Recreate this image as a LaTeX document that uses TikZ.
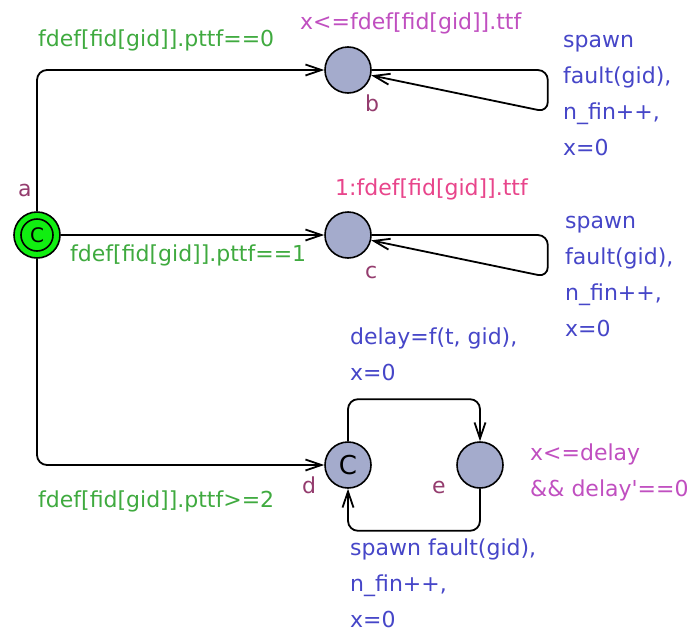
\documentclass[tikz,border=0pt]{standalone}
\usepackage{fontspec}
\setmainfont{DejaVu Sans}
\usepackage{tikz}
\usetikzlibrary{arrows.meta}
\definecolor{uplocfill}{HTML}{A4ABCC}
\definecolor{upinit}{HTML}{11EE11}
\definecolor{upguard}{HTML}{3FAA3F}
\definecolor{upinv}{HTML}{C04FC0}
\definecolor{uprate}{HTML}{E8458B}
\definecolor{upupdate}{HTML}{4646C8}
\definecolor{upname}{HTML}{943C6E}

\begin{document}
\begin{tikzpicture}[
    x=1pt, y=-1pt,
    >={Straight Barb[length=16pt,width=11pt]},
    loc/.style={circle, draw, line width=1.6pt, fill=uplocfill, minimum size=46pt,
        inner sep=0pt, font=\fontsize{26}{26}\selectfont},
    initloc/.style={loc, fill=upinit, font=\fontsize{20}{20}\selectfont,
        path picture={\draw[line width=1.6pt] (path picture bounding box.center) circle (16pt);}},
    lbl/.style={inner sep=0pt, anchor=base west, align=left, font=\fontsize{22}{36}\selectfont},
    locname/.style={lbl, text=upname},
    guard/.style={lbl, text=upguard},
    inv/.style={lbl, text=upinv},
    rate/.style={lbl, text=uprate},
    upd/.style={lbl, text=upupdate},
    edge/.style={->, line width=1.8pt, rounded corners=10pt}
]
\useasboundingbox (0,0) rectangle (693,632);

% locations
\node[initloc] (loca) at (37,235) {C};
\node[loc] (locb) at (348,70) {};
\node[loc] (locc) at (348,235) {};
\node[loc] (locd) at (348,465) {C};
\node[loc] (loce) at (480,465) {};

\node[locname] (namea) at (18,196) {a};
\node[locname] (nameb) at (365,111) {b};
\node[locname] (namec) at (365,278) {c};
\node[locname] (named) at (302,493) {d};
\node[locname] (namee) at (432,493) {e};

% labels (multi-line ones sit on the baseline of their last line)
\node[inv] (invb) at (300,29) {x<=fdef[fid[gid]].ttf};
\node[rate] (ratec) at (335,195) {1:fdef[fid[gid]].ttf};
\node[inv] (inve) at (530,496) {x<=delay\\\&\& delay\textquotesingle==0};

\node[guard] (guardb) at (38,46) {fdef[fid[gid]].pttf==0};
\node[guard] (guardc) at (70,261) {fdef[fid[gid]].pttf==1};
\node[guard] (guardd) at (38,507) {fdef[fid[gid]].pttf>=2};

\node[upd] (updb) at (563,155) {spawn\\fault(gid),\\n\_fin++,\\x=0};
\node[upd] (updc) at (565,336) {spawn\\fault(gid),\\n\_fin++,\\x=0};
\node[upd] (upde) at (350,380) {delay=f(t, gid),\\x=0};
\node[upd] (updd) at (350,627) {spawn fault(gid),\\n\_fin++,\\x=0};

% edges
\draw[edge] (loca.north) |- (locb.west);
\draw[edge] (loca.east) -- (locc.west);
\draw[edge] (loca.south) |- (locd.west);
\draw[edge] (locb.east) -- ++(176,0) -- ++(0,42) -- (locb.-13);
\draw[edge] (locc.east) -- ++(176,0) -- ++(0,42) -- (locc.-13);
\draw[edge] (locd.north) -- ++(0,-42) -| (loce.north);
\draw[edge] (loce.south) -- ++(0,42) -| (locd.south);
\end{tikzpicture}
\end{document}
